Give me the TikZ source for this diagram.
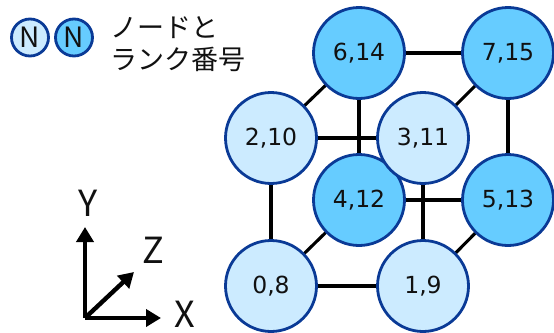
\documentclass[tikz,border=0pt]{standalone}
\usepackage{fontspec}
\setmainfont{DejaVu Sans}
\newfontfamily\jp{Noto Sans CJK JP}
\usetikzlibrary{arrows.meta,backgrounds}
\definecolor{lite}{HTML}{CCEBFF}
\definecolor{dark}{HTML}{66CCFF}
\definecolor{rim}{HTML}{0A3A96}
\definecolor{ink}{HTML}{111111}
\tikzset{
  rank/.style={circle, minimum size=91pt, inner sep=0pt, draw=rim, line width=2.8pt,
    text=ink, font=\fontsize{23.5}{23.5}\selectfont},
  front/.style={rank, fill=lite},
  back/.style={rank, fill=dark},
  legend/.style={circle, minimum size=37pt, inner sep=0pt, draw=rim, line width=2.8pt,
    text=ink, font=\jp\fontsize{28}{28}\selectfont},
  link/.style={line width=3.1pt, black},
  axis/.style={line width=4.4pt, black, -{Triangle[length=15pt,width=17pt]}},
  axlabel/.style={font=\jp\fontsize{36}{36}\selectfont, text=ink, inner sep=0pt},
  jptext/.style={font=\jp\fontsize{27}{27}\selectfont, text=ink, inner sep=0pt, anchor=west}
}
\begin{document}
\begin{tikzpicture}[x=1pt, y=-1pt]
\useasboundingbox (0,0) rectangle (554,332);
% back face
\node[back] (n6) at (359,53) {6,14};
\node[back] (n7) at (508,53) {7,15};
\node[back] (n4) at (359,200) {4,12};
\node[back] (n5) at (508,200) {5,13};
% front face
\node[front] (n2) at (271,138) {2,10};
\node[front] (n3) at (423,138) {3,11};
\node[front] (n0) at (271,286) {0,8};
\node[front] (n1) at (423,286) {1,9};
\begin{scope}[on background layer]
\draw[link] (n0.center) -- (n1.center);
\draw[link] (n0.center) -- (n2.center);
\draw[link] (n0.center) -- (n4.center);
\draw[link] (n1.center) -- (n3.center);
\draw[link] (n1.center) -- (n5.center);
\draw[link] (n2.center) -- (n3.center);
\draw[link] (n2.center) -- (n6.center);
\draw[link] (n3.center) -- (n7.center);
\draw[link] (n4.center) -- (n5.center);
\draw[link] (n4.center) -- (n6.center);
\draw[link] (n5.center) -- (n7.center);
\draw[link] (n6.center) -- (n7.center);
\end{scope}
% legend
\node[legend, fill=lite] (la) at (30,37.5) {N};
\node[legend, fill=dark] (lb) at (74,37.5) {N};
\node[jptext] (t1) at (110,28) {ノードと};
\node[jptext] (t2) at (110,59) {ランク番号};
% axes
\coordinate (o) at (85,318);
\coordinate (ytip) at (85,227);
\coordinate (xtip) at (161,318);
\coordinate (ztip) at (134,272);
\draw[axis] (o) -- (ytip);
\draw[axis] (o) -- (xtip);
\draw[axis] (o) -- (ztip);
\node[axlabel] (ly) at (88,203) {Y};
\node[axlabel] (lz) at (153,250) {Z};
\node[axlabel] (lx) at (185,314) {X};
\end{tikzpicture}
\end{document}
